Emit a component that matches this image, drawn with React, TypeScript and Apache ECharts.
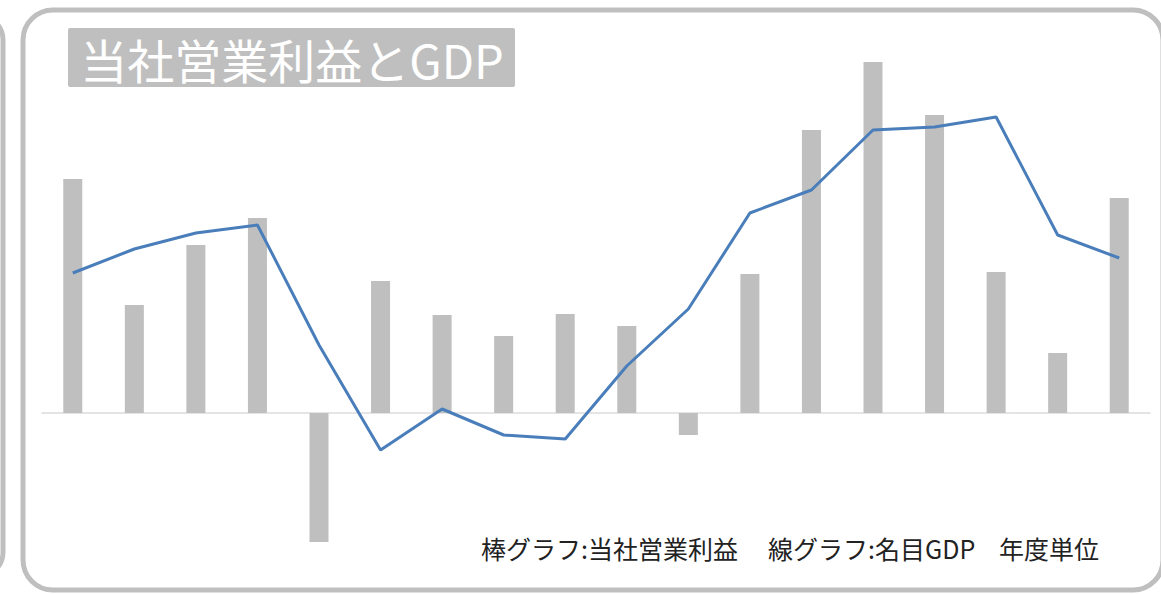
import React, { useEffect, useRef } from "react";
import * as echarts from "echarts";

const categories = ["1", "2", "3", "4", "5", "6", "7", "8", "9", "10", "11", "12", "13", "14", "15", "16", "17", "18"];
// 当社営業利益 (relative units)
const profitValues = [234, 108, 168, 195, -129, 132, 98, 77, 99, 87, -22, 139, 283, 351, 298, 141, 60, 215];
// 名目GDP (relative units)
const gdpValues = [287, 311, 327, 335, 215, 110, 151, 125, 121, 194, 251, 347, 370, 430, 433, 443, 325, 302];

const titleText = "当社営業利益とGDP";
const noteBar = "棒グラフ:当社営業利益";
const noteLine = "線グラフ:名目GDP";
const noteUnit = "年度単位";

const FONT = '"Noto Sans CJK JP", "Noto Sans", sans-serif';

export default function App() {
  const ref = useRef<HTMLDivElement>(null);
  useEffect(() => {
    if (!ref.current) return;
    const chart = echarts.init(ref.current, undefined, { renderer: "svg" });
    chart.setOption({
      animation: false,
      backgroundColor: "#ffffff",
      grid: { left: 42, right: 11, top: 40, bottom: 34 },
      xAxis: {
        type: "category",
        data: categories,
        boundaryGap: true,
        axisLine: { show: true, onZero: true, lineStyle: { color: "#dcdcdc", width: 1.5 } },
        axisTick: { show: false },
        axisLabel: { show: false },
        splitLine: { show: false },
      },
      yAxis: [
        { type: "value", min: -147, max: 373, show: false, splitLine: { show: false } },
        { type: "value", min: 0, max: 520, show: false, splitLine: { show: false } },
      ],
      series: [
        {
          type: "bar",
          data: profitValues,
          barWidth: 19,
          itemStyle: { color: "#bfbfbf" },
          yAxisIndex: 0,
        },
        {
          type: "line",
          data: gdpValues,
          yAxisIndex: 1,
          symbol: "none",
          lineStyle: { color: "#4a7ebb", width: 3 },
          z: 3,
        },
      ],
      graphic: [
        {
          type: "rect",
          shape: { x: -100, y: 15, width: 103, height: 562, r: 25 },
          style: { fill: "none", stroke: "#bfbfbf", lineWidth: 5 },
          z: 10,
        },
        {
          type: "rect",
          shape: { x: 23, y: 10, width: 1140, height: 580, r: 30 },
          style: { fill: "none", stroke: "#bfbfbf", lineWidth: 5 },
          z: 10,
        },
        {
          type: "rect",
          shape: { x: 68, y: 28, width: 447, height: 59, r: 2 },
          style: { fill: "#bfbfbf" },
          z: 10,
        },
        {
          type: "text",
          x: 292,
          y: 58,
          style: {
            text: titleText,
            fill: "#ffffff",
            font: `47px ${FONT}`,
            align: "center",
            verticalAlign: "middle",
          },
          z: 11,
        },
        {
          type: "text",
          x: 481,
          y: 548,
          style: { text: noteBar, fill: "#222222", font: `25px ${FONT}`, align: "left", verticalAlign: "middle" },
          z: 11,
        },
        {
          type: "text",
          x: 768,
          y: 548,
          style: { text: noteLine, fill: "#222222", font: `25px ${FONT}`, align: "left", verticalAlign: "middle" },
          z: 11,
        },
        {
          type: "text",
          x: 999,
          y: 548,
          style: { text: noteUnit, fill: "#222222", font: `25px ${FONT}`, align: "left", verticalAlign: "middle" },
          z: 11,
        },
      ],
    });
    return () => chart.dispose();
  }, []);
  return (
    <div
      ref={ref}
      style={{ position: "fixed", left: 0, top: 0, width: 1161, height: 594, background: "#ffffff" }}
    />
  );
}
